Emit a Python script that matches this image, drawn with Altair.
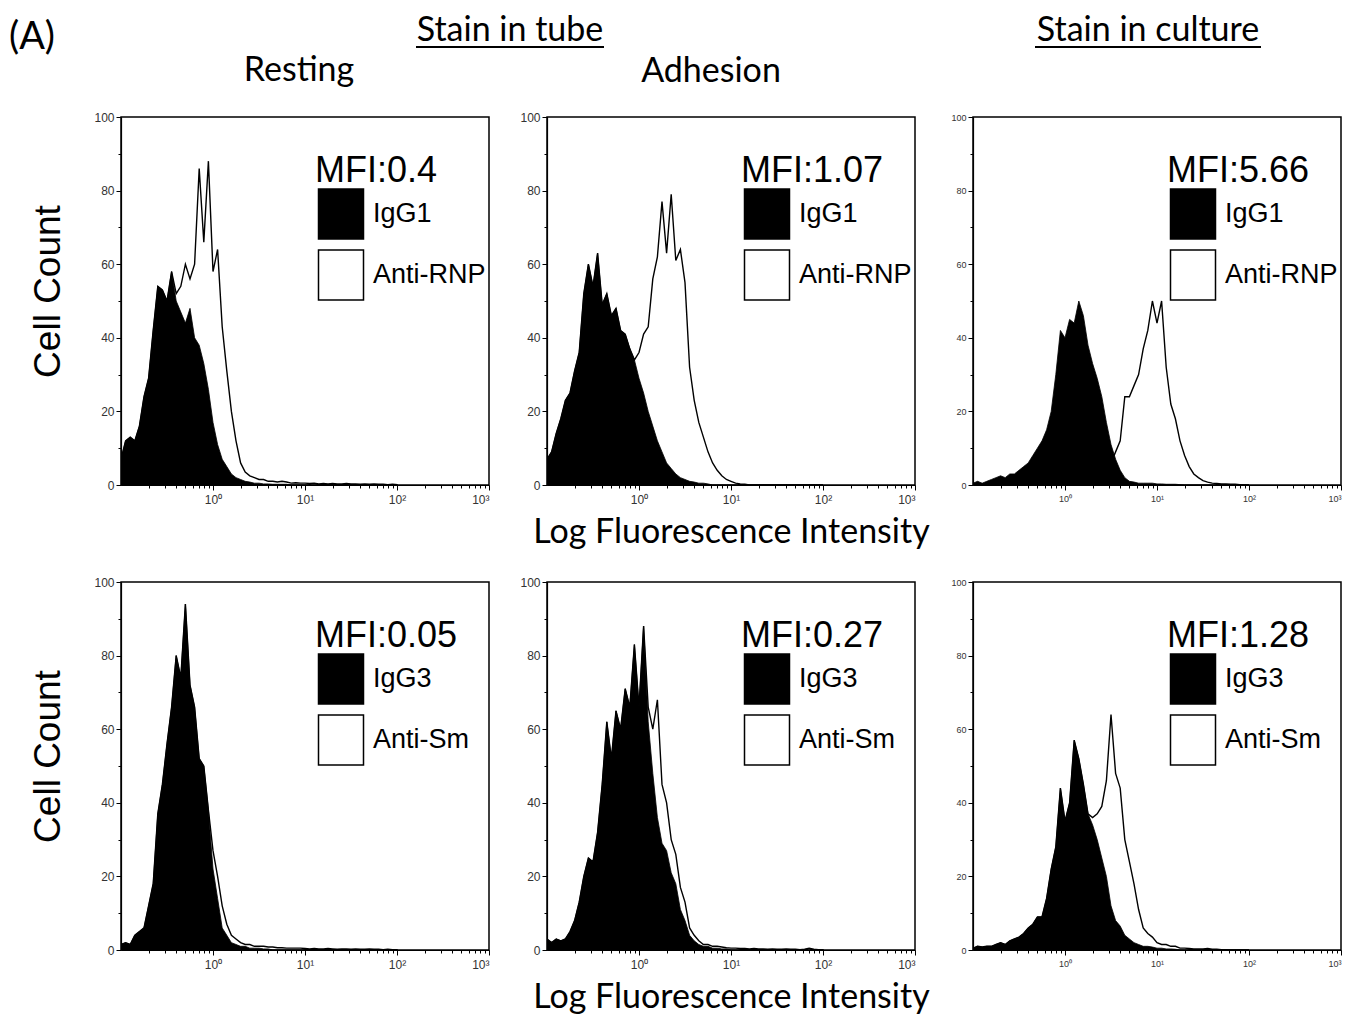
import altair as alt
import pandas as pd

# ---------------- data ----------------
LOG_X = [-1.00, -0.95, -0.90, -0.85, -0.80, -0.75, -0.70, -0.65, -0.60, -0.55,
         -0.50, -0.45, -0.40, -0.35, -0.30, -0.25, -0.20, -0.15, -0.10, -0.05,
         0.00, 0.05, 0.10, 0.15, 0.20, 0.25, 0.30, 0.35, 0.40, 0.45,
         0.50, 0.55, 0.60, 0.65, 0.70, 0.75, 0.80, 0.85, 0.90, 0.95,
         1.00, 1.05, 1.10, 1.15, 1.20, 1.25, 1.30, 1.35, 1.40, 1.45,
         1.50, 1.55, 1.60, 1.65, 1.70, 1.75, 1.80, 1.85, 1.90, 1.95,
         2.00]

P1_IGG = [7, 12, 13, 12, 16, 24, 29, 42, 54, 53,
          50, 58, 50, 47, 44, 48, 40, 38, 33, 26,
          17, 11, 7, 5, 3, 2, 1.5, 1, 0.8, 0.5,
          0.5, 0.3, 0.3, 0.2, 0.2, 0.2, 0.2, 0, 0, 0,
          0, 0, 0, 0, 0, 0, 0, 0, 0, 0,
          0, 0, 0, 0, 0, 0, 0, 0, 0, 0,
          0]
P1_ANTI = [7, 12, 13, 12, 16, 24, 29, 42, 54, 53,
           50, 58, 52, 54, 60, 56, 60, 86, 66, 88,
           58, 64, 43, 31, 20, 12, 6, 3.5, 2.5, 2,
           1.5, 1.5, 1, 1, 0.8, 1, 0.8, 0.5, 0.6, 0.5,
           0.5, 0.4, 0.5, 0.3, 0.4, 0.3, 0.4, 0.3, 0.3, 0.4,
           0.3, 0.3, 0.2, 0.3, 0.2, 0.3, 0.2, 0.2, 0.1, 0.2,
           0.1]

P2_IGG = [7, 9, 14, 18, 23, 25, 31, 36, 52, 60,
          54, 63, 49, 52, 46, 48, 42, 41, 37, 34,
          29, 25, 20, 16, 12, 9, 6, 4.5, 3, 2,
          1.5, 1, 0.8, 0.5, 0.5, 0.3, 0, 0, 0, 0,
          0, 0, 0, 0, 0, 0, 0, 0, 0, 0,
          0, 0, 0, 0, 0, 0, 0, 0, 0, 0,
          0]
P2_ANTI = [7, 9, 14, 18, 23, 25, 31, 36, 52, 60,
           54, 63, 49, 52, 46, 48, 42, 41, 37, 34,
           36, 41, 43, 56, 62, 77, 63, 79, 61, 64,
           55, 32, 23, 17, 13, 9, 6, 4, 2.5, 1.5,
           1, 0.5, 0.3, 0.2, 0, 0, 0, 0, 0, 0,
           0, 0, 0, 0, 0, 0, 0, 0, 0, 0,
           0]

P3_IGG = [0.5, 1, 0.5, 1, 1.5, 2, 2.5, 2, 3, 3,
          4, 5, 6, 8, 10, 12, 15, 20, 30, 42,
          40, 45, 44, 50, 46, 38, 33, 29, 24, 17,
          11, 7, 4, 2, 1, 0.8, 0.5, 0.5, 0.5, 0.5,
          0.3, 0.3, 0.2, 0.2, 0.2, 0.1, 0, 0, 0, 0,
          0, 0, 0, 0, 0, 0, 0, 0, 0, 0,
          0]
P3_ANTI = [0.3, 0.3, 0.3, 0.3, 0.5, 0.5, 0.5, 0.5, 0.5, 0.5,
           0.5, 0.5, 0.5, 0.5, 0.5, 0.5, 0.5, 0.5, 0.5, 0.5,
           1, 1, 1, 1, 1, 1.5, 2, 2, 3, 4,
           6, 9, 12, 24, 24, 27, 30, 37, 42, 50,
           44, 50, 32, 22, 18, 12, 8, 5, 3, 2,
           1.2, 0.8, 0.5, 0.4, 0.3, 0.3, 0.2, 0.2, 0.1, 0,
           0]

P4_IGG = [1.5, 2, 1.5, 4, 5, 6, 12, 18, 37, 45,
          56, 66, 80, 74, 94, 72, 66, 52, 50, 38,
          22, 14, 6, 4, 2, 1.5, 1, 1, 0.5, 0.5,
          0.5, 0.3, 0.3, 0, 0, 0, 0, 0, 0, 0,
          0, 0, 0, 0, 0, 0, 0, 0, 0, 0,
          0, 0, 0, 0, 0, 0, 0, 0, 0, 0,
          0]
P4_ANTI = [1.5, 2, 1.5, 4, 5, 6, 12, 18, 37, 45,
           56, 66, 80, 74, 94, 72, 66, 52, 50, 38,
           27, 20, 12, 7, 4, 3, 2, 1.5, 1.5, 1,
           1, 1, 0.8, 0.8, 0.6, 0.6, 0.5, 0.5, 0.5, 0.5,
           0.4, 0.3, 0.4, 0.3, 0.3, 0.4, 0.3, 0.2, 0.3, 0.3,
           0.2, 0.3, 0.2, 0.2, 0.3, 0.2, 0.2, 0.1, 0.2, 0.1,
           0.1]

P5_IGG = [3, 2, 3, 2.5, 3, 5, 8, 13, 20, 25,
          24, 32, 45, 62, 52, 65, 60, 71, 66, 83,
          66, 88, 62, 48, 36, 29, 27, 21, 18, 11,
          8, 4, 2.5, 1.5, 1, 1, 0.5, 0.5, 0.3, 0.3,
          0, 0, 0, 0, 0, 0, 0, 0, 0, 0,
          0, 0, 0, 0, 0, 0, 0, 0, 0, 0,
          0]
P5_ANTI = [3, 2, 3, 2.5, 3, 5, 8, 13, 20, 25,
           24, 32, 45, 62, 52, 65, 60, 71, 66, 83,
           66, 88, 66, 60, 68, 45, 40, 30, 26, 17,
           13, 6, 4, 2.5, 1.5, 1.5, 1, 1, 0.8, 0.6,
           0.5, 0.5, 0.4, 0.4, 0.3, 0.4, 0.3, 0.3, 0.2, 0.3,
           0.2, 0.2, 0.3, 0.2, 0.2, 0.1, 0.2, 0.5, 0.2, 0.1,
           0.1]

P6_IGG = [0.5, 1, 0.8, 1, 1, 1.5, 2, 1.5, 2.5, 3,
          3.5, 4.5, 6, 7, 9, 9, 14, 22, 28, 44,
          35, 40, 57, 52, 45, 37, 34, 30, 25, 20,
          12, 8, 6.5, 4, 3, 2, 1.5, 1, 1, 0.8,
          0.5, 0.5, 0.3, 0.3, 0.2, 0, 0, 0, 0, 0,
          0, 0, 0, 0, 0, 0, 0, 0, 0, 0,
          0]
P6_ANTI = [0.5, 1, 0.8, 1, 1, 1.5, 2, 1.5, 2.5, 3,
           3.5, 4.5, 6, 7, 9, 9, 14, 22, 28, 44,
           35, 40, 57, 52, 45, 37, 36, 37, 39, 46,
           64, 48, 44, 30, 24, 18, 11, 6, 4.5, 3.5,
           2, 1.5, 1.5, 1, 1, 0.5, 0.5, 0.4, 0.3, 0.3,
           0.3, 0.4, 0.2, 0.2, 0.1, 0.1, 0, 0, 0, 0,
           0]

MFI = ["0.4", "1.07", "5.66", "0.05", "0.27", "1.28"]
ISOTYPE = ["IgG1", "IgG1", "IgG1", "IgG3", "IgG3", "IgG3"]
ANTIBODY = ["Anti-RNP", "Anti-RNP", "Anti-RNP", "Anti-Sm", "Anti-Sm", "Anti-Sm"]
SERIES = [(P1_IGG, P1_ANTI), (P2_IGG, P2_ANTI), (P3_IGG, P3_ANTI),
          (P4_IGG, P4_ANTI), (P5_IGG, P5_ANTI), (P6_IGG, P6_ANTI)]
Y_TICKS = [0, 10, 20, 30, 40, 50, 60, 70, 80, 90, 100]
X_DECADES = [0.1, 1, 10, 100]
X_MULT = [1, 2, 3, 4, 5, 6, 7, 8, 9]
X_TICKS = [round(m * d, 4) for d in X_DECADES for m in X_MULT if not (d == 0.1 and m == 1)] + [1000]

# ---------------- styling ----------------
ARIAL = "Liberation Sans"
CAL = "Lato"
W = 368
H = 368
RECT = "M-0.9,-1H0.9V1H-0.9Z"


def label(text, x, y, size, align="center"):
    return alt.Chart(alt.Data(values=[{}])).mark_text(
        text=text, font=CAL, fontSize=size, align=align, baseline="middle", color="black"
    ).encode(x=alt.value(x), y=alt.value(y))


def underline(x1, x2, y):
    return alt.Chart(alt.Data(values=[{}])).mark_rule(color="black", strokeWidth=2).encode(
        x=alt.value(x1), x2=alt.value(x2), y=alt.value(y))


def panel(i):
    igg, anti = SERIES[i]
    iso, ab = ISOTYPE[i], ANTIBODY[i]
    rows = []
    for lx, a in zip(LOG_X, anti):
        rows.append({"x": 10 ** lx, "count": a, "series": ab})
    for lx, g in zip(LOG_X, igg):
        rows.append({"x": 10 ** lx, "count": g, "series": iso})
    df = pd.DataFrame(rows)

    col = i % 3
    lab_size = 9 if col == 2 else 12

    x_axis = alt.Axis(
        values=X_TICKS,
        labelExpr="datum.value == 1 ? '10\u2070' : datum.value == 10 ? '10\u00b9' : "
                  "datum.value == 100 ? '10\u00b2' : datum.value == 1000 ? '10\u00b3' : ''",
        tickSize={"condition": {"test": "indexof([1,10,100,1000], datum.value) >= 0", "value": 5}, "value": 3},
        labelFontSize=lab_size, labelPadding=4, grid=False,
        titleFont=CAL, titleFontSize=34, titleFontWeight="normal", titleColor="black",
        titlePadding=10,
    )
    y_axis = alt.Axis(
        values=Y_TICKS,
        labelExpr="datum.value % 20 == 0 ? datum.label : ''",
        tickSize={"condition": {"test": "datum.value % 20 == 0", "value": 5}, "value": 3},
        labelFontSize=lab_size, labelPadding=2, grid=False,
        titleFont=ARIAL, titleFontSize=37, titleFontWeight="normal", titleColor="black",
        titlePadding=26, titleY=174,
    )
    x_title = "Log Fluorescence Intensity" if col == 1 else None
    y_title = "Cell Count" if col == 0 else None

    fill = alt.Fill(
        "series:N",
        scale=alt.Scale(domain=[iso, ab], range=["black", "white"]),
        legend=alt.Legend(
            title=f"MFI:{MFI[i]}", orient="none", legendX=194, legendY=37,
            direction="vertical", padding=0,
            titleFont=ARIAL, titleFontSize=36, titleFontWeight="normal",
            titleColor="black", titlePadding=-2, titleLimit=400,
            labelFont=ARIAL, labelFontSize=27, labelColor="black",
            labelOffset=6, labelLimit=300,
            symbolType=RECT, symbolSize=2500, symbolStrokeColor="black",
            symbolStrokeWidth=1.5, symbolOpacity=1, rowPadding=5,
        ),
    )
    base = alt.Chart(df).encode(
        x=alt.X("x:Q", scale=alt.Scale(type="log", domain=[0.1, 1000], nice=False),
                axis=x_axis, title=x_title),
        y=alt.Y("count:Q", scale=alt.Scale(domain=[0, 100], nice=False),
                axis=y_axis, title=y_title),
        fill=fill,
    )
    anti_area = base.transform_filter(alt.datum.series == ab).mark_area(
        stroke="black", strokeWidth=1.4, opacity=1, fillOpacity=1,
        interpolate="linear", clip=True)
    igg_area = base.transform_filter(alt.datum.series == iso).mark_area(
        stroke="black", strokeWidth=0.8, opacity=1, fillOpacity=1,
        interpolate="linear", clip=True)
    layers = [anti_area, igg_area]

    if i == 0:
        layers += [label("(A)", -112, -79, 38, align="left"),
                   label("Stain in tube", 389, -86, 34),
                   underline(295, 483, -70),
                   label("Resting", 178, -46, 34)]
    if i == 1:
        layers += [label("Adhesion", 164, -45, 34)]
    if i == 2:
        layers += [label("Stain in culture", 175, -86, 34),
                   underline(62, 288, -70)]

    return alt.layer(*layers).properties(width=W, height=H)


chart = alt.concat(
    *[panel(i) for i in range(6)],
    columns=3,
    spacing=alt.RowColnumber(row=97, column=58),
    bounds="flush",
).resolve_scale(
    fill="independent", x="independent", y="independent"
).resolve_legend(
    fill="independent"
).properties(
    padding={"left": 0, "top": 5, "right": 2, "bottom": 2}
).configure_view(
    stroke="black", strokeWidth=1.5
).configure_axis(
    domainColor="black", domainWidth=1.2, tickColor="black", tickWidth=1,
    labelFont=ARIAL, labelColor="#333",
)

chart.save("out.html", embed_options={"renderer": "svg", "actions": False})
